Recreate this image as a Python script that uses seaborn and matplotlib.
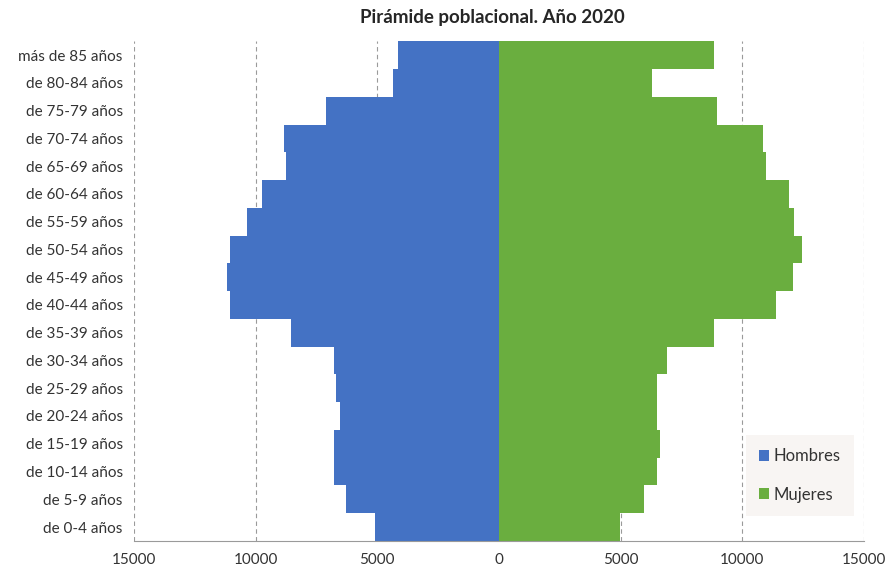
import numpy as np
import pandas as pd
import matplotlib
matplotlib.use("Agg")
import matplotlib.pyplot as plt
import seaborn as sns

# grupos de edad, de arriba a abajo
grupos = ["más de 85 años", "de 80-84 años", "de 75-79 años", "de 70-74 años",
          "de 65-69 años", "de 60-64 años", "de 55-59 años", "de 50-54 años",
          "de 45-49 años", "de 40-44 años", "de 35-39 años", "de 30-34 años",
          "de 25-29 años", "de 20-24 años", "de 15-19 años", "de 10-14 años",
          "de 5-9 años", "de 0-4 años"]
hombres = [4130, 4360, 7090, 8820, 8740, 9750, 10340, 11070,
           11190, 11070, 8560, 6790, 6710, 6550, 6790, 6790, 6270, 5100]
mujeres = [8840, 6300, 8960, 10870, 10990, 11920, 12120, 12470,
           12080, 11370, 8840, 6920, 6510, 6510, 6630, 6510, 5960, 4960]
ticks = [-15000, -10000, -5000, 0, 5000, 10000, 15000]

df = pd.DataFrame({
    "grupo": grupos * 2,
    "valor": [-v for v in hombres] + mujeres,
    "sexo": ["Hombres"] * len(grupos) + ["Mujeres"] * len(grupos),
})

sns.set_style("white")
plt.rcParams["font.family"] = ["Lato", "DejaVu Sans"]

fig = plt.figure(figsize=(8.87, 5.73), dpi=100)
ax = fig.add_axes([0.151, 0.056, 0.823, 0.872])

for x in ticks:
    if x != 0:
        ax.axvline(x, color="#9a9a9a", lw=0.8, ls=(0, (4, 3)), zorder=0)

sns.barplot(data=df, y="grupo", x="valor", hue="sexo", order=grupos,
            palette={"Hombres": "#4472C4", "Mujeres": "#6AAE3F"},
            saturation=1, dodge=False, width=1.0, orient="h", ax=ax,
            zorder=2, edgecolor="none")

ax.set_xlim(-15000, 15000)
ax.set_ylim(len(grupos) - 0.5, -0.5)
ax.set_xticks(ticks)
ax.set_xticklabels([str(abs(t)) for t in ticks], fontsize=11, color="#333333")
ax.tick_params(axis="y", labelsize=11, colors="#333333", length=0, pad=8)
ax.tick_params(axis="x", length=3, color="#9a9a9a", pad=6)
ax.set_xlabel("")
ax.set_ylabel("")
for s in ["top", "right", "left"]:
    ax.spines[s].set_visible(False)
ax.spines["bottom"].set_color("#9a9a9a")
ax.spines["bottom"].set_linewidth(0.8)

leg = ax.legend(loc="lower right", bbox_to_anchor=(0.963, 0.0995),
                bbox_transform=fig.transFigure, borderaxespad=0, frameon=True,
                fontsize=12, handlelength=0.6, handleheight=0.6,
                labelspacing=1.35, borderpad=0.8, handletextpad=0.3)
leg.get_frame().set_facecolor("#F7F3F0")
leg.get_frame().set_edgecolor("none")
leg.get_frame().set_boxstyle("square", pad=0)
for t in leg.get_texts():
    t.set_color("#333333")

fig.suptitle("Pirámide poblacional. Año 2020", fontsize=13.5, fontweight="bold",
             y=0.985, x=0.555)

fig.savefig("out.png", dpi=100)
